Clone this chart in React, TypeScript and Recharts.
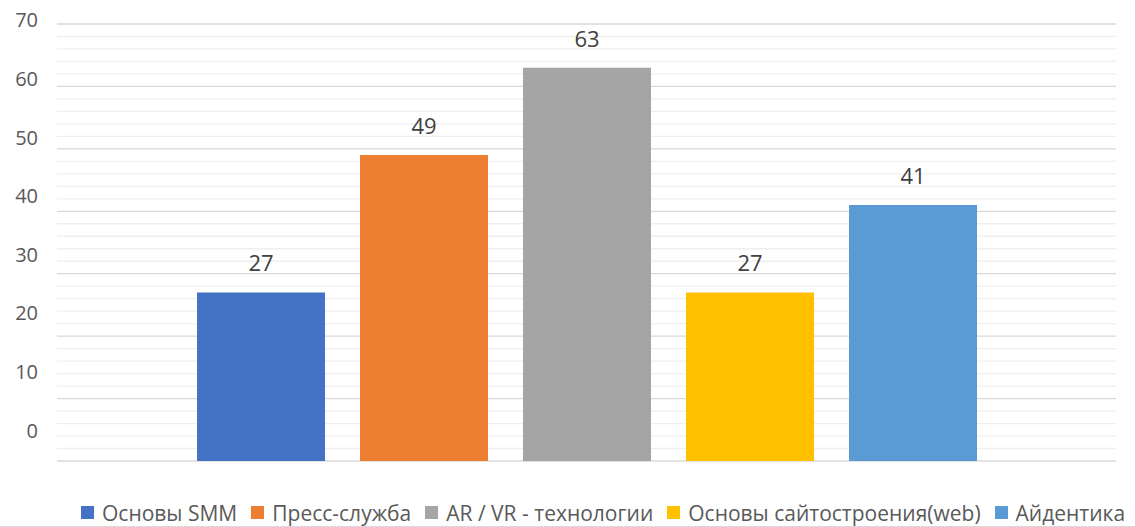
import React from 'react';
import { BarChart, Bar, XAxis, YAxis, CartesianGrid, Legend, LabelList } from 'recharts';

const seriesNames = ['Основы SMM', 'Пресс-служба', 'AR / VR - технологии', 'Основы сайтостроения(web)', 'Айдентика'];
const seriesKeys = ['smm', 'press', 'arvr', 'web', 'ident'];
const seriesValues = [27, 49, 63, 27, 41];
const seriesColors = ['#4472C4', '#ED7D31', '#A5A5A5', '#FFC000', '#5B9BD5'];
// every gridline (major every 10, minor every 2); only multiples of 10 get a label
const gridTicks = [
  0, 2, 4, 6, 8, 10, 12, 14, 16, 18, 20, 22, 24, 26, 28, 30, 32, 34,
  36, 38, 40, 42, 44, 46, 48, 50, 52, 54, 56, 58, 60, 62, 64, 66, 68, 70,
];

const row: Record<string, string | number> = { name: '' };
seriesKeys.forEach((k, i) => {
  row[k] = seriesValues[i];
});
const data = [row];

const FONT = '"Open Sans", "Noto Sans", sans-serif';
const TEXT = '#595959';

const isMajor = (v: number) => v % 10 === 0;

// the original's value labels sit on a slightly compressed scale, not on the gridlines
const LABEL_SCALE = 0.9388;
const LABEL_SHIFT = -2.3;

const YTick = (props: any) => {
  const { x, y, payload } = props;
  if (!isMajor(payload.value)) return <g />;
  return (
    <text
      x={x}
      y={y * LABEL_SCALE + LABEL_SHIFT}
      dy="0.36em"
      textAnchor="end"
      fill={TEXT}
      fontSize={20}
      fontFamily={FONT}
    >
      {payload.value}
    </text>
  );
};

const GridLine = (props: any) => {
  const { x1, x2, y1, y2, index } = props;
  const major = isMajor(gridTicks[index] ?? 0);
  return (
    <line
      x1={x1}
      x2={x2}
      y1={y1}
      y2={y2}
      stroke={major ? '#D9D9D9' : '#EFEFEF'}
      strokeWidth={1.3}
    />
  );
};

const renderLegend = () => (
  <div
    style={{
      display: 'flex',
      alignItems: 'center',
      height: 65,
      paddingTop: 38,
      paddingLeft: 81,
      boxSizing: 'border-box',
      fontFamily: FONT,
      fontSize: 21,
      color: TEXT,
      whiteSpace: 'nowrap',
    }}
  >
    {seriesNames.map((n, i) => (
      <div key={n} style={{ display: 'flex', alignItems: 'center', height: 28, marginRight: 14 }}>
        <span style={{ width: 13, height: 13, background: seriesColors[i], marginRight: 8, display: 'inline-block' }} />
        <span style={{ lineHeight: '28px' }}>{n}</span>
      </div>
    ))}
  </div>
);

export default function App() {
  return (
    <div
      style={{
        position: 'absolute',
        left: 0,
        top: 0,
        width: 1135,
        height: 526,
        borderBottom: '1px solid #d9d9d9',
        background: '#fff',
        overflow: 'hidden',
      }}
    >
      <BarChart
        width={1135}
        height={526}
        data={data}
        margin={{ top: 24, right: 19, left: 0, bottom: 0 }}
        barGap={35}
        barCategoryGap={0}
      >
        <CartesianGrid vertical={false} horizontal={GridLine} />
        <XAxis dataKey="name" hide />
        <YAxis
          domain={[0, 70]}
          ticks={gridTicks}
          interval={0}
          width={57}
          axisLine={false}
          tickLine={false}
          tickSize={0}
          tickMargin={19}
          tick={<YTick />}
        />
        {seriesKeys.map((k, i) => (
          <Bar
            key={k}
            dataKey={k}
            name={seriesNames[i]}
            fill={seriesColors[i]}
            barSize={128}
            isAnimationActive={false}
          >
            <LabelList dataKey={k} position="top" offset={21} fill="#404040" fontSize={22} fontFamily={FONT} />
          </Bar>
        ))}
        <Legend verticalAlign="bottom" height={65} content={renderLegend} wrapperStyle={{ left: 0, width: 1135, bottom: 0 }} />
      </BarChart>
    </div>
  );
}
